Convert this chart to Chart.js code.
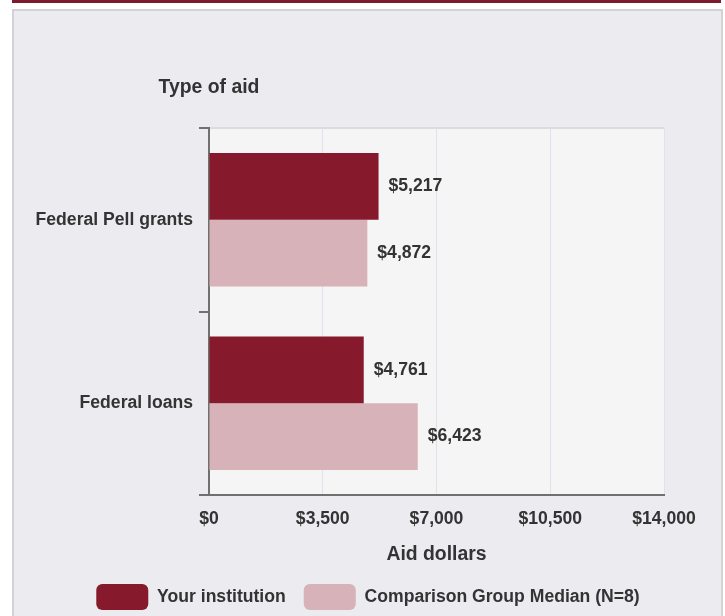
<!DOCTYPE html>
<html>
<head>
<meta charset="utf-8">
<script src="https://cdn.jsdelivr.net/npm/chart.js@4/dist/chart.umd.min.js"></script>
<style>
  html, body { margin: 0; padding: 0; background: #ffffff; }
  body { width: 725px; height: 616px; position: relative; overflow: hidden; }
  #topbar { position: absolute; left: 12px; top: 0; width: 709px; height: 3px; background: #7d1a2c; }
  #panel { position: absolute; left: 12px; top: 9px; width: 707px; height: 640px; background: #ebebf0; border: 2px solid #d3d3d6; }
  #wrap { position: absolute; left: 0; top: 0; width: 725px; height: 620px; }
</style>
</head>
<body>
<div id="topbar"></div>
<div id="panel"></div>
<div id="wrap"><canvas id="c" width="725" height="620"></canvas></div>
<script>
const categories = ["Federal Pell grants", "Federal loans"];
const seriesNames = ["Your institution", "Comparison Group Median (N=8)"];
const yourInstitution = [5217, 4761];
const comparisonMedian = [4872, 6423];
const xTicks = [0, 3500, 7000, 10500, 14000];
const yTitle = "Type of aid";
const xTitle = "Aid dollars";

const FONT = "'Liberation Sans', Arial, sans-serif";
const TEXT = "#333333";
const FS = 17.6;
const TS = 19.4;
const CH = 620;
const fmt = v => "$" + v.toLocaleString("en-US");

const areaBg = {
  id: "areaBg",
  afterLayout(chart) {
    if (chart.legend) { chart.legend.left += 72; }
  },
  beforeDraw(chart) {
    const { ctx, chartArea: a } = chart;
    ctx.save();
    ctx.fillStyle = "#f5f5f5";
    ctx.fillRect(a.left, a.top, a.right - a.left, a.bottom - a.top);
    ctx.strokeStyle = "#dcdcdc";
    ctx.lineWidth = 2;
    ctx.beginPath();
    ctx.moveTo(a.left, a.top);
    ctx.lineTo(a.right, a.top);
    ctx.stroke();
    ctx.restore();
  }
};

const extras = {
  id: "extras",
  afterDatasetsDraw(chart) {
    const { ctx } = chart;
    ctx.save();
    ctx.font = "bold " + FS + "px " + FONT;
    ctx.fillStyle = TEXT;
    ctx.textAlign = "left";
    ctx.textBaseline = "middle";
    chart.data.datasets.forEach((ds, di) => {
      chart.getDatasetMeta(di).data.forEach((bar, i) => {
        ctx.fillText(fmt(ds.data[i]), bar.x + 10, bar.y);
      });
    });
    ctx.font = "bold " + TS + "px " + FONT;
    ctx.textAlign = "center";
    ctx.fillText(yTitle, chart.chartArea.left, 88);
    ctx.restore();
  }
};

new Chart(document.getElementById("c"), {
  type: "bar",
  data: {
    labels: categories,
    datasets: [
      { label: seriesNames[0], data: yourInstitution, backgroundColor: "#861a2c", borderRadius: 0 },
      { label: seriesNames[1], data: comparisonMedian, backgroundColor: "#d7b2b8", borderRadius: 0 }
    ]
  },
  options: {
    indexAxis: "y",
    responsive: false,
    animation: false,
    events: [],
    barPercentage: 1,
    categoryPercentage: 0.727,
    layout: { padding: { left: 0, top: 128, right: 61, bottom: 0 } },
    scales: {
      y: {
        type: "category",
        offset: true,
        grid: { offset: true, drawOnChartArea: false, color: "#707070", lineWidth: 2, tickLength: 10 },
        border: { display: true, color: "#707070", width: 2 },
        ticks: { color: TEXT, font: { family: FONT, size: FS, weight: "bold" }, padding: 6 },
        afterFit(scale) { scale.width = 209; }
      },
      x: {
        min: 0, max: 14000,
        afterBuildTicks(scale) { scale.ticks = xTicks.map(v => ({ value: v })); },
        grid: { color: "#dde2ec", lineWidth: 1, drawTicks: false },
        border: { display: true, color: "#707070", width: 2 },
        ticks: { color: TEXT, font: { family: FONT, size: FS, weight: "bold" }, padding: 14, callback: v => fmt(v), maxRotation: 0 },
        title: { display: true, text: xTitle, color: TEXT, font: { family: FONT, size: TS, weight: "bold" }, padding: { top: 0, bottom: 0 } },
        afterFit(scale) { scale.height = CH - 495 - (scale.chart.legend ? scale.chart.legend.height : 54); }
      }
    },
    plugins: {
      legend: {
        position: "bottom",
        labels: {
          boxWidth: 52, boxHeight: 26, padding: 18,
          useBorderRadius: true, borderRadius: 6,
          color: TEXT, font: { family: FONT, size: FS, weight: "bold" }
        }
      },
      tooltip: { enabled: false }
    }
  },
  plugins: [areaBg, extras]
});
</script>
</body>
</html>
